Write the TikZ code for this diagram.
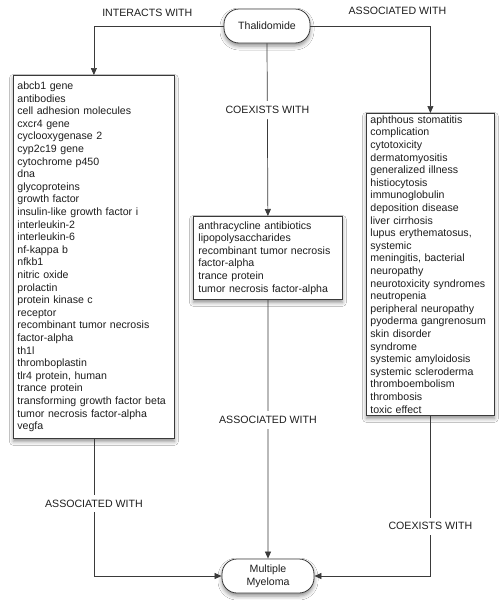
\documentclass[tikz,border=0pt]{standalone}
\usepackage{fontspec}
\setmainfont{Liberation Sans}
\usetikzlibrary{arrows.meta,shadows.blur}
\definecolor{ink}{HTML}{1E1E1E}
\definecolor{wire}{HTML}{3A3A3A}
\begin{document}
\begin{tikzpicture}[x=1pt,y=-1pt,
  every node/.style={font=\fontsize{10.6}{12.6}\selectfont, text=ink},
  shade box/.style={blur shadow={shadow xshift=0pt, shadow yshift=-3pt, shadow blur radius=4pt, shadow opacity=45}},
  listbox/.style={draw=wire, line width=0.8pt, fill=white, align=left, anchor=north west, inner ysep=0pt, shade box},
  pill/.style={draw=wire, line width=0.8pt, fill=white, rounded corners=15pt, align=center, inner sep=0pt, shade box},
  rel/.style={fill=white, inner xsep=1pt, inner ysep=5pt},
  toplab/.style={inner sep=1pt},
  conn/.style={draw=wire, line width=0.7pt, -{Triangle[width=6pt,length=7pt]}}
]
\useasboundingbox[fill=white] (0,0) rectangle (503,600);

\node[pill, minimum width=86pt, minimum height=34pt] (T) at (267,26) {Thalidomide};
\node[pill, minimum width=92pt, minimum height=34pt] (MM) at (268,576) {Multiple\\Myeloma};

\node[listbox, inner xsep=4pt, text width=153pt, minimum width=161pt, minimum height=363pt] (L) at (13,75) {%
abcb1 gene\\
antibodies\\
cell adhesion molecules\\
cxcr4 gene\\
cyclooxygenase 2\\
cyp2c19 gene\\
cytochrome p450\\
dna\\
glycoproteins\\
growth factor\\
insulin-like growth factor i\\
interleukin-2\\
interleukin-6\\
nf-kappa b\\
nfkb1\\
nitric oxide\\
prolactin\\
protein kinase c\\
receptor\\
recombinant tumor necrosis\\
factor-alpha\\
th1l\\
thromboplastin\\
tlr4 protein, human\\
trance protein\\
transforming growth factor beta\\
tumor necrosis factor-alpha\\
vegfa};

\node[listbox, inner xsep=5pt, text width=139pt, minimum width=149pt, minimum height=83pt] (M) at (193,216) {%
anthracycline antibiotics\\
lipopolysaccharides\\
recombinant tumor necrosis\\
factor-alpha\\
trance protein\\
tumor necrosis factor-alpha};

\node[listbox, inner xsep=4pt, text width=120pt, minimum width=128pt, minimum height=302pt] (R) at (366,113) {%
aphthous stomatitis\\
complication\\
cytotoxicity\\
dermatomyositis\\
generalized illness\\
histiocytosis\\
immunoglobulin\\
deposition disease\\
liver cirrhosis\\
lupus erythematosus,\\
systemic\\
meningitis, bacterial\\
neuropathy\\
neurotoxicity syndromes\\
neutropenia\\
peripheral neuropathy\\
pyoderma gangrenosum\\
skin disorder\\
syndrome\\
systemic amyloidosis\\
systemic scleroderma\\
thromboembolism\\
thrombosis\\
toxic effect};

\draw[conn] (T.west) -| node[toplab, pos=0.294, yshift=13pt] {INTERACTS WITH} (L.north);
\draw[conn] (T.east) -| node[toplab, pos=0.3625, yshift=15pt] {ASSOCIATED WITH} (R.north);
\draw[conn] (T.south) -- node[rel, pos=0.387] {COEXISTS WITH} (M.north);
\draw[conn] (M.south) -- node[rel, pos=0.465] {ASSOCIATED WITH} (MM.north);
\draw[conn] (L.south) |- node[rel, pos=0.2355] {ASSOCIATED WITH} (MM.west);
\draw[conn] (R.south) |- node[rel, pos=0.345] {COEXISTS WITH} (MM.east);
\end{tikzpicture}
\end{document}
